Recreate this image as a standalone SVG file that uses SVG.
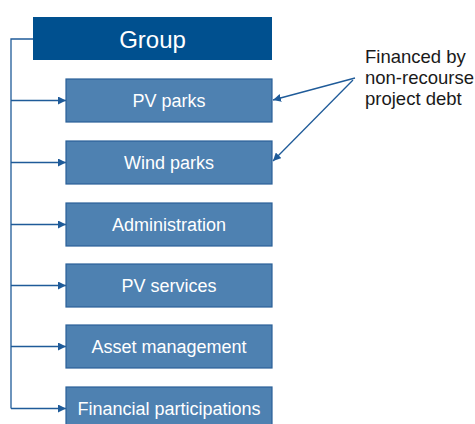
<svg xmlns="http://www.w3.org/2000/svg" width="475" height="424" viewBox="0 0 475 424">
<style>
.box{fill:#4E81B1;stroke:#2A6098;stroke-width:1.2}
.lbl{font-family:"Liberation Sans",Arial,sans-serif;font-size:18px;fill:#ffffff;text-anchor:middle}
.ln{fill:none;stroke:#1F5B99;stroke-width:1.3}
.note{font-family:"Liberation Sans",Arial,sans-serif;font-size:18.5px;fill:#1a1a1a}
</style>
<defs>
<marker id="ah" viewBox="0 0 8 8" refX="8" refY="4" markerWidth="8" markerHeight="8" markerUnits="userSpaceOnUse" orient="auto">
<path d="M0,0 L8,4 L0,8 Z" fill="#1F5B99"/>
</marker>
</defs>
<rect width="475" height="424" fill="#ffffff"/>
<g id="connectors">
<path class="ln" d="M33,39 H11 V408.5"/>
<path class="ln" d="M11,100.5 H66" marker-end="url(#ah)"/>
<path class="ln" d="M11,162.5 H66" marker-end="url(#ah)"/>
<path class="ln" d="M11,224.5 H66" marker-end="url(#ah)"/>
<path class="ln" d="M11,285.5 H66" marker-end="url(#ah)"/>
<path class="ln" d="M11,346.5 H66" marker-end="url(#ah)"/>
<path class="ln" d="M11,408.5 H66" marker-end="url(#ah)"/>
<path class="ln" d="M355,78 L273,100" marker-end="url(#ah)"/>
<path class="ln" d="M353,80 L273,161" marker-end="url(#ah)"/>
</g>
<g id="group">
<rect x="33" y="17" width="239" height="43" fill="#00508F"/>
<text x="152.5" y="47.5" class="lbl" style="font-size:24px">Group</text>
</g>
<g id="pv-parks">
<rect class="box" x="66" y="79" width="206" height="43"/>
<text x="169" y="107" class="lbl">PV parks</text>
</g>
<g id="wind-parks">
<rect class="box" x="66" y="141" width="206" height="43"/>
<text x="169" y="169" class="lbl">Wind parks</text>
</g>
<g id="administration">
<rect class="box" x="66" y="203" width="206" height="43"/>
<text x="169" y="231" class="lbl">Administration</text>
</g>
<g id="pv-services">
<rect class="box" x="66" y="264" width="206" height="43"/>
<text x="169" y="292" class="lbl">PV services</text>
</g>
<g id="asset-management">
<rect class="box" x="66" y="325" width="206" height="43"/>
<text x="169" y="353" class="lbl">Asset management</text>
</g>
<g id="financial-participations">
<rect class="box" x="66" y="387" width="206" height="43"/>
<text x="169" y="415" class="lbl">Financial participations</text>
</g>
<g id="note">
<text class="note" x="365" y="63">Financed by</text>
<text class="note" x="365" y="84">non-recourse</text>
<text class="note" x="365" y="105">project debt</text>
</g>
</svg>
